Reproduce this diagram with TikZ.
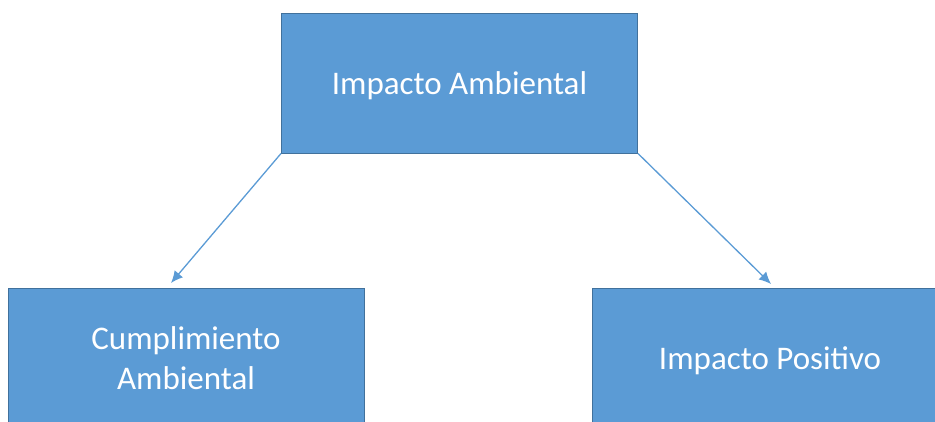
\documentclass[tikz,border=0pt]{standalone}
\usepackage{fontspec}
\setmainfont{Carlito}
\usetikzlibrary{arrows.meta}
\definecolor{boxfill}{HTML}{5B9BD5}
\definecolor{boxline}{HTML}{41719C}
\definecolor{linkblue}{HTML}{5B9BD5}
\begin{document}
\begin{tikzpicture}[x=1pt,y=-1pt,
  label text/.style={text=white, align=center, text depth=0pt,
    font=\fontsize{33}{40}\selectfont},
  block/.style={draw=boxline, line width=1pt, fill=boxfill, rectangle,
    minimum width=356pt, minimum height=140pt, inner sep=0pt, label text},
  link/.style={draw=linkblue, line width=1.3pt,
    -{Latex[length=12pt,width=11pt]}}]
  \useasboundingbox (0,0) rectangle (935,421);
  \clip (0,0) rectangle (935,421);
  % boxes
  \node[block] (top) at (459.5,83) {Impacto Ambiental};
  \node[block] (left) at (186,358) {Cumplimiento\\Ambiental};
  \node[block, minimum width=380pt] (right) at (782,358) {};
  \node[label text] (rightlabel) at (770,358) {Impacto Positivo};
  % arrow ends just above the lower boxes
  \coordinate (leftend) at (171,283);
  \coordinate (rightend) at (771,284);
  \draw[link] (top.south west) -- (leftend);
  \draw[link] (top.south east) -- (rightend);
\end{tikzpicture}
\end{document}
